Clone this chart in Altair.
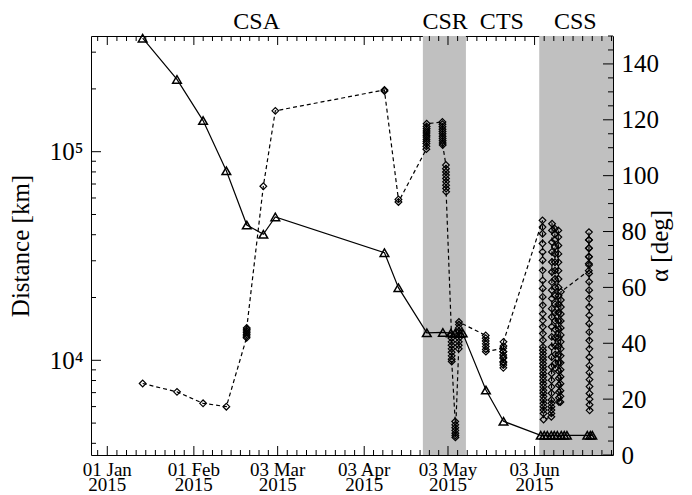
import altair as alt
import pandas as pd

FONT = "Liberation Serif"
W, H = 522, 419

# ---------------- data ----------------
tri_time = ["2015-01-13T16:00", "2015-01-25T23:00", "2015-02-04T07:00", "2015-02-12T15:00",
            "2015-02-19T23:00", "2015-02-25T21:00", "2015-03-02T04:00", "2015-04-10T06:00",
            "2015-04-15T06:00", "2015-04-25T10:00", "2015-05-01T04:00", "2015-05-04T01:00",
            "2015-05-05T14:00", "2015-05-07T09:00", "2015-05-08T06:00", "2015-05-16T14:00",
            "2015-05-22T21:00", "2015-06-05T05:00", "2015-06-06T11:00", "2015-06-07T13:00",
            "2015-06-08T23:00", "2015-06-10T01:00", "2015-06-11T03:00", "2015-06-12T13:00",
            "2015-06-13T15:00", "2015-06-14T14:00", "2015-06-21T21:00", "2015-06-22T23:00",
            "2015-06-23T16:00"]
tri_dist = [350000, 222000, 141000, 81000, 44500, 40200, 48700, 32800,
            22300, 13550, 13600, 13500, 13500, 13450, 13500, 7200,
            5100, 4370, 4370, 4370, 4370, 4370, 4370, 4370,
            4370, 4370, 4370, 4370, 4370]

dia_start = ["2015-01-13T16:00", "2015-01-25T23:00", "2015-02-04T07:00", "2015-02-12T15:00",
             "2015-02-19T21:00", "2015-02-25T21:00", "2015-03-02T04:00", "2015-04-10T06:00",
             "2015-04-15T06:00", "2015-04-25T06:00", "2015-05-01T00:00", "2015-05-02T06:00",
             "2015-05-04T06:00", "2015-05-05T14:00", "2015-05-06T20:00", "2015-05-16T12:00",
             "2015-05-22T18:00", "2015-06-05T20:00", "2015-06-09T00:00", "2015-06-10T06:00",
             "2015-06-11T12:00", "2015-06-12T06:00", "2015-06-22T10:00"]
dia_alpha = [
    [25.6], [22.6], [18.5], [17.3],
    [42.0, 42.6, 43.2, 43.8, 44.4, 45.0, 45.5],
    [96.2], [123.2], [130.7, 130.3], [91.5, 90.6],
    [109.5, 110.5, 111.5, 112.3, 113.0, 113.8, 114.5, 115.3, 116.0, 116.8, 117.6, 118.6],
    [119.2, 118.4, 117.5, 116.6, 115.8, 115.0, 114.1, 113.3, 112.5, 111.7, 111.0],
    [103.8, 102.5, 101.3, 100.2, 99.0, 97.8, 96.6, 95.4, 94.2],
    [43.0, 41.8, 40.5, 39.3, 38.0, 36.8, 35.5, 34.3, 33.5],
    [12.0, 10.8, 9.8, 8.8, 7.8, 7.0, 6.3],
    [38.0, 39.3, 40.5, 41.8, 43.0, 44.3, 45.5, 46.7, 47.6],
    [42.8, 41.8, 40.8, 39.8, 38.8, 37.8, 37.0],
    [38.2, 37.0, 35.8, 34.6, 33.4, 32.2, 31.2, 33.0, 35.0, 37.0, 39.0, 40.5],
    [84.0, 81.6, 79.2, 75.7, 72.7, 69.7, 66.1, 62.5, 59.6, 56.6, 53.6, 50.6, 48.2, 45.9,
     43.5, 41.1, 38.7, 37.5, 36.3, 35.1, 34.0, 32.8, 31.6, 30.4, 29.2, 28.0, 26.8, 25.6,
     24.4, 23.2, 22.1, 20.9, 19.7, 18.5, 17.3, 16.1, 14.9, 12.7],
    [13.7, 14.9, 16.1, 17.3, 18.5, 19.7, 22.1, 24.4, 26.8, 29.2, 31.6, 35.1, 38.7, 42.3,
     45.9, 49.4, 52.4, 56.0, 59.0, 61.9, 65.5, 69.1, 72.7, 76.2, 80.4, 82.8],
    [81.0, 79.0, 77.0, 74.5, 72.0, 69.0, 66.0, 63.0, 60.0, 57.0, 54.0, 51.0, 48.0, 45.0,
     42.0, 39.0, 36.0, 33.0, 31.0],
    [80.4, 78.0, 75.0, 72.0, 69.0, 66.0, 63.0, 60.0, 57.0, 54.0, 51.0, 48.0, 45.0, 42.0,
     39.0, 36.0, 33.0, 30.0, 27.5, 25.0, 22.5, 20.5, 19.0],
    [19.0, 21.0, 23.0, 25.5, 28.0, 30.5, 33.0, 35.5, 38.0, 40.5, 43.0, 45.5, 48.0, 50.5,
     53.0, 55.5, 58.4],
    [66.0, 68.5, 71.0, 74.0, 77.0, 79.8, 77.0, 74.0, 71.0, 68.0, 65.0, 62.0, 59.0, 56.0,
     53.0, 50.0, 47.0, 44.0, 41.0, 38.0, 35.0, 32.0, 29.5, 27.0, 24.5, 22.0, 20.0, 18.0, 16.0],
]

region_start = ["2015-04-24T00:00", "2015-06-04T16:00"]
region_end = ["2015-05-09T10:00", "2015-07-01T02:00"]

phase_name = ["CSA", "CSR", "CTS", "CSS"]
phase_time = ["2015-02-23T12:00", "2015-05-02T00:00", "2015-05-22T07:00", "2015-06-17T14:00"]

x_domain = ["2014-12-26T04:00", "2015-07-01T02:00"]
x_major = ["2015-01-01", "2015-02-01", "2015-03-03", "2015-04-03", "2015-05-03", "2015-06-03"]
x_major_label = ["01 Jan", "01 Feb", "03 Mar", "03 Apr", "03 May", "03 Jun"]
x_major_year = ["2015", "2015", "2015", "2015", "2015", "2015"]
y_major = [10000, 100000]
y_minor = [4000, 5000, 6000, 7000, 8000, 9000, 20000, 30000, 40000, 50000, 60000, 70000,
           80000, 90000, 200000, 300000]
a_major = [0, 20, 40, 60, 80, 100, 120, 140]
a_minor = [5, 10, 15, 25, 30, 35, 45, 50, 55, 65, 70, 75, 85, 90, 95, 105, 110, 115,
           125, 130, 135, 145, 150]

# ---------------- frames ----------------
tri = pd.DataFrame({"t": pd.to_datetime(tri_time), "dist": tri_dist})
rows = []
for s, vals in zip(dia_start, dia_alpha):
    t0 = pd.Timestamp(s)
    for i, v in enumerate(vals):
        rows.append({"t": t0 + pd.Timedelta(minutes=15 * i), "alpha": v})
dia = pd.DataFrame(rows)
reg = pd.DataFrame({"start": pd.to_datetime(region_start), "end": pd.to_datetime(region_end)})
lab = pd.DataFrame({"t": pd.to_datetime(phase_time), "name": phase_name})
xlab = pd.DataFrame({"t": pd.to_datetime(x_major), "day": x_major_label, "year": x_major_year})

majors = [pd.Timestamp(s) for s in x_major]
minors = []
for a, b in zip(majors[:-1], majors[1:]):
    for k in range(1, 9):
        minors.append(a + (b - a) * k / 9)
step = (majors[1] - majors[0]) / 9
m = majors[0] - step
while m > pd.Timestamp(x_domain[0]):
    minors.append(m)
    m -= step
m = majors[-1] + step
while m < pd.Timestamp(x_domain[1]):
    minors.append(m)
    m += step
xmaj_df = pd.DataFrame({"t": majors})
xmin_df = pd.DataFrame({"t": minors})
ymaj_df = pd.DataFrame({"v": y_major})
ymin_df = pd.DataFrame({"v": y_minor})
amaj_df = pd.DataFrame({"v": a_major})
amin_df = pd.DataFrame({"v": a_minor})


def dt(ts):
    d = pd.Timestamp(ts)
    return alt.DateTime(year=d.year, month=d.month, date=d.day, hours=d.hour, minutes=d.minute)


xscale = alt.Scale(domain=[dt(x_domain[0]), dt(x_domain[1])])
dscale = alt.Scale(type="log", domain=[3516, 358600])
ascale = alt.Scale(domain=[0, 150])

y_left_axis = alt.Axis(orient="left", values=y_major, ticks=False, domain=False, grid=False,
                       labelExpr="datum.value == 10000 ? '10\u2074' : '10\u2075'",
                       labelFont=FONT, labelFontSize=25, labelPadding=8, labelColor="black",
                       labelOverlap=False, title="Distance [km]", titleFont=FONT,
                       titleFontSize=25, titleFontWeight="normal", titleColor="black",
                       titlePadding=16)
a_right_axis = alt.Axis(orient="right", values=a_major, ticks=False, domain=False, grid=False,
                        labelFont=FONT, labelFontSize=25, labelPadding=8,
                        labelColor="black", labelOverlap=False,
                        title="\u03b1 [deg]", titleAngle=270, titlePadding=14,
                        titleFont=FONT, titleFontSize=25, titleFontWeight="normal",
                        titleColor="black")

X = lambda f: alt.X(f, scale=xscale, axis=None)

shade = alt.Chart(reg).mark_rect(color="#c0c0c0").encode(
    x=X("start:T"), x2="end:T", y=alt.value(0), y2=alt.value(H),
)
tri_line = alt.Chart(tri).mark_line(color="black", strokeWidth=1.2).encode(
    x=X("t:T"), y=alt.Y("dist:Q", scale=dscale, axis=y_left_axis),
)
tri_pts = alt.Chart(tri).mark_point(shape="triangle-up", size=75, color="black",
                                    filled=False, strokeWidth=1.5, opacity=1).encode(
    x=X("t:T"), y=alt.Y("dist:Q", scale=dscale, axis=None),
)
dia_line = alt.Chart(dia).mark_line(color="black", strokeWidth=1.2, strokeDash=[4, 3]).encode(
    x=X("t:T"), y=alt.Y("alpha:Q", scale=ascale, axis=a_right_axis),
)
dia_pts = alt.Chart(dia).mark_point(shape="diamond", size=45, color="black",
                                    filled=False, strokeWidth=1.2, opacity=1).encode(
    x=X("t:T"), y=alt.Y("alpha:Q", scale=ascale, axis=None),
)
labels = alt.Chart(lab).mark_text(font=FONT, fontSize=24, color="black",
                                  baseline="alphabetic", align="center").encode(
    x=X("t:T"), y=alt.value(-7), text="name:N",
)
day_text = alt.Chart(xlab).mark_text(font=FONT, fontSize=19, color="black",
                                     baseline="alphabetic", align="center").encode(
    x=X("t:T"), y=alt.value(H + 21), text="day:N",
)
year_text = alt.Chart(xlab).mark_text(font=FONT, fontSize=19, color="black",
                                      baseline="alphabetic", align="center").encode(
    x=X("t:T"), y=alt.value(H + 36), text="year:N",
)


# inward tick marks drawn through the same scales
def xticks(df, y0, y1):
    return alt.Chart(df).mark_rule(color="black", strokeWidth=1).encode(
        x=X("t:T"), y=alt.value(y0), y2=alt.value(y1))


def yticks(df, scale, x0, x1):
    return alt.Chart(df).mark_rule(color="black", strokeWidth=1).encode(
        y=alt.Y("v:Q", scale=scale, axis=None), x=alt.value(x0), x2=alt.value(x1))


tick_layers = [
    xticks(xmaj_df, H, H - 9), xticks(xmin_df, H, H - 5),
    xticks(xmaj_df, 0, 9), xticks(xmin_df, 0, 5),
    yticks(ymaj_df, dscale, 0, 10), yticks(ymin_df, dscale, 0, 5),
    yticks(amaj_df, ascale, W, W - 10), yticks(amin_df, ascale, W, W - 5),
]

chart = alt.layer(shade, tri_line, tri_pts, dia_line, dia_pts, labels, day_text, year_text,
                  *tick_layers).resolve_scale(y="independent").properties(
    width=W, height=H,
    autosize=alt.AutoSizeParams(type="none"),
    padding={"left": 83, "top": 28, "right": 71, "bottom": 40},
    background="white",
).configure_view(stroke="black", strokeWidth=1)

chart.save("out.html", embed_options={"renderer": "svg", "actions": False})
